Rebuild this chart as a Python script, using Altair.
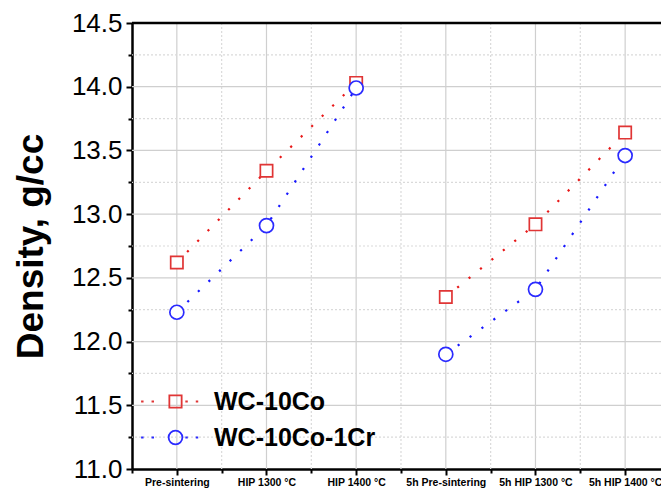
import json
import altair as alt
import pandas as pd

phases = ["Pre-sintering", "HIP 1300 °C", "HIP 1400 °C",
          "5h Pre-sintering", "5h HIP 1300 °C", "5h HIP 1400 °C"]
positions = [0, 1, 2, 3, 4, 5]
groups = ["a", "a", "a", "b", "b", "b"]
wc_co = [12.62, 13.34, 14.03, 12.35, 12.92, 13.64]
wc_co_cr = [12.23, 12.91, 13.99, 11.90, 12.41, 13.46]
series_names = ["WC-10Co", "WC-10Co-1Cr"]
y_ticks = [11.0, 11.25, 11.5, 11.75, 12.0, 12.25, 12.5, 12.75, 13.0, 13.25,
           13.5, 13.75, 14.0, 14.25, 14.5]
x_ticks = [-0.5, 0, 0.5, 1, 1.5, 2, 2.5, 3, 3.5, 4, 4.5, 5]
x_major = [0, 1, 2, 3, 4, 5]
x_minor = [0.5, 1.5, 2.5, 3.5, 4.5]
y_major = [11.5, 12.0, 12.5, 13.0, 13.5, 14.0]
y_minor = [11.25, 11.75, 12.25, 12.75, 13.25, 13.75, 14.25]
y_top = [14.5]

rows = []
for name, vals in zip(series_names, [wc_co, wc_co_cr]):
    for p, ph, g, v in zip(positions, phases, groups, vals):
        rows.append({"series": name, "pos": p, "phase": ph, "grp": g, "density": v})
df = pd.DataFrame(rows)

RED_LINE = "#e81818"
BLUE_LINE = "#1818ff"
RED_MK = "#e03535"
BLUE_MK = "#2a2aff"
FONT = "Liberation Sans"
GRID_MAJOR = "#cfcfcf"
GRID_MINOR = "#dadada"

x_scale = alt.Scale(domain=[-0.5, 5.4], nice=False, zero=False)
y_scale = alt.Scale(domain=[11.0, 14.5], nice=False, zero=False)

x_enc = alt.X("pos:Q", scale=x_scale,
              axis=alt.Axis(
                  values=x_ticks, title=None, grid=False,
                  labelExpr="datum.value % 1 == 0 ? " + json.dumps(phases) + "[datum.value] : ''",
                  labelFont=FONT, labelFontSize=10.5, labelFontWeight="bold", labelColor="black",
                  labelPadding=2, labelFlush=False, labelOverlap=False,
                  domainColor="black", domainWidth=2.5,
                  tickColor="black", tickWidth=2,
                  tickSize=alt.condition("datum.value % 1 == 0", alt.value(6), alt.value(4)),
              ))
y_enc = alt.Y("density:Q", scale=y_scale,
              axis=alt.Axis(
                  values=y_ticks, title="Density, g/cc", grid=False,
                  labelExpr="datum.value % 0.5 == 0 ? format(datum.value, '.1f') : ''",
                  labelFont=FONT, labelFontSize=26, labelColor="black", labelPadding=4,
                  labelFlush=False, labelOverlap=False,
                  titleFont=FONT, titleFontSize=37, titleFontWeight="bold", titleColor="black",
                  titlePadding=21,
                  domainColor="black", domainWidth=2.5,
                  tickColor="black", tickWidth=2,
                  tickSize=alt.condition("datum.value % 0.5 == 0", alt.value(6), alt.value(4)),
              ))

base = alt.Chart(df)

def vgrid(vals, color, dash):
    return alt.Chart(pd.DataFrame({"pos": vals})).mark_rule(
        color=color, strokeWidth=1.2, strokeDash=dash
    ).encode(x=x_enc)

def hgrid(vals, color, dash, width=1.2):
    return alt.Chart(pd.DataFrame({"density": vals})).mark_rule(
        color=color, strokeWidth=width, strokeDash=dash
    ).encode(y=y_enc)

def line_layer(name, color):
    return base.transform_filter(alt.datum.series == name).mark_line(
        color=color, strokeWidth=2.2, strokeDash=[2.2, 12.5]
    ).encode(x=x_enc, y=y_enc, detail="grp:N", order="pos:Q")

def point_layer(name, color, shape, size):
    return base.transform_filter(alt.datum.series == name).mark_point(
        shape=shape, size=size, filled=True, fill="white", stroke=color,
        strokeWidth=1.7, opacity=1, fillOpacity=1
    ).encode(x=x_enc, y=y_enc)

dots = " M-5.6,0H-5.2 M-3.9,0H-3.5 M1.6,0H2 M3.3,0H3.7"
sq_path = "M-1,-1H1V1H-1Z" + dots
ci_path = "M1.12,0A1.12,1.12,0,1,1,-1.12,0A1.12,1.12,0,1,1,1.12,0Z" + dots

leg = alt.Legend(orient="none", legendX=31, legendY=366, title=None,
                 labelFont=FONT, labelFontSize=25, labelFontWeight="bold", labelColor="black",
                 symbolSize=151, symbolStrokeWidth=1.8, labelOffset=26, rowPadding=10,
                 padding=0, labelLimit=400)

legend_layer = base.transform_filter("false").mark_point(filled=False, strokeWidth=1.8, opacity=1).encode(
    x=x_enc, y=y_enc,
    color=alt.Color("series:N", scale=alt.Scale(domain=series_names, range=[RED_MK, BLUE_MK]), legend=leg),
    shape=alt.Shape("series:N", scale=alt.Scale(domain=series_names, range=[sq_path, ci_path]), legend=leg),
)

chart = alt.layer(
    vgrid(x_minor, GRID_MINOR, [2, 2]),
    vgrid(x_major, GRID_MAJOR, [1, 0]),
    hgrid(y_minor, GRID_MINOR, [2, 2]),
    hgrid(y_major, GRID_MAJOR, [1, 0]),
    hgrid(y_top, "black", [1, 0], 2.5),
    line_layer("WC-10Co", RED_LINE),
    line_layer("WC-10Co-1Cr", BLUE_LINE),
    point_layer("WC-10Co", RED_MK, "square", 151),
    point_layer("WC-10Co-1Cr", BLUE_MK, "circle", 196),
    legend_layer,
).properties(
    width=529, height=446,
    autosize=alt.AutoSizeParams(type="none"),
    padding={"left": 124, "top": 15, "right": 0, "bottom": 19},
).configure_view(stroke=None).configure(background="white")

chart.save("out.html", embed_options={"renderer": "svg", "actions": False})
